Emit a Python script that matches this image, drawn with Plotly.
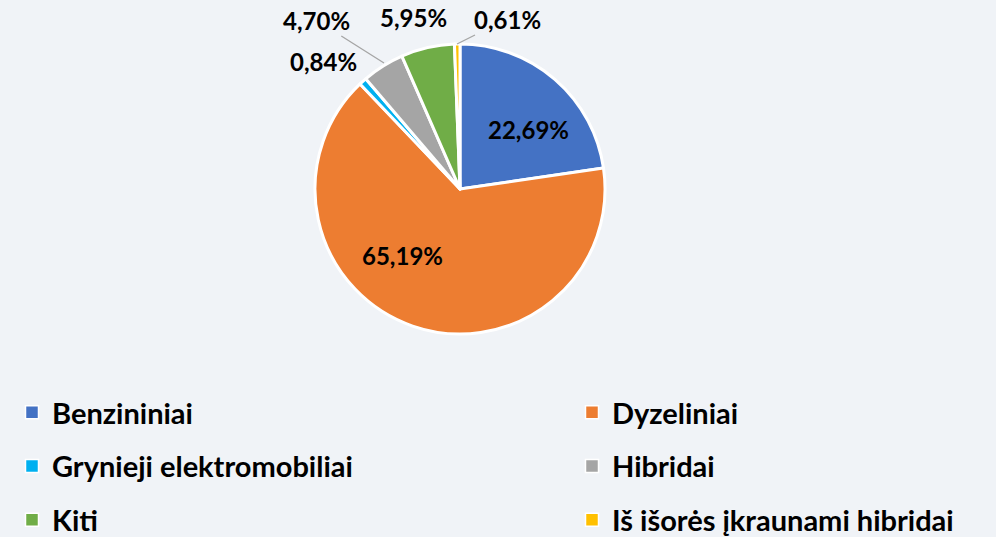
import plotly.graph_objects as go

labels = ["Benzininiai", "Dyzeliniai", "Grynieji elektromobiliai", "Hibridai", "Kiti",
          "Iš išorės įkraunami hibridai"]
values = [22.69, 65.19, 0.84, 4.70, 5.95, 0.61]
colors = ["#4472C4", "#ED7D31", "#00B0F0", "#A5A5A5", "#70AD47", "#FFC000"]

# legend columns (left / right)
left_col = ["Benzininiai", "Grynieji elektromobiliai", "Kiti"]
right_col = ["Dyzeliniai", "Hibridai", "Iš išorės įkraunami hibridai"]

W, H = 996, 537
BG = "#F0F3F7"
FONT = "Lato"

def fmt(v):
    return f"{v:.2f}".replace(".", ",") + "%"

texts = [fmt(v) for v in values]

fig = go.Figure()
fig.add_trace(go.Pie(
    labels=labels, values=values, sort=False, direction="clockwise", rotation=0,
    marker=dict(colors=colors, line=dict(color="white", width=3)),
    textinfo="none", showlegend=False, hoverinfo="label+value",
    domain=dict(x=[(460 - 145) / W, (460 + 145) / W], y=[1 - 334 / H, 1 - 44 / H]),
))

# legend entries (two columns)
for name in labels:
    c = colors[labels.index(name)]
    fig.add_trace(go.Scatter(
        x=[None], y=[None], mode="markers", name=name, legendgroup=name,
        marker=dict(symbol="square", size=13, color=c, line=dict(color="white", width=1.5)),
        legend="legend" if name in left_col else "legend2",
        hoverinfo="skip",
    ))

# data labels: (px, py, tip_x, tip_y) in pixels; tip None = no leader line
label_pos = {
    "Benzininiai": (528, 130, None, None),
    "Dyzeliniai": (402, 255, None, None),
    "Grynieji elektromobiliai": (323, 62, None, None),
    "Hibridai": (316, 20, 384, 63),
    "Kiti": (413, 17, None, None),
    "Iš išorės įkraunami hibridai": (507, 19, 457, 44),
}
for name, t in zip(labels, texts):
    px, py, tx, ty = label_pos[name]
    lab_font = dict(family=FONT, size=24, color="black", weight="bold")
    if tx is None:
        fig.add_annotation(x=px / W, y=1 - py / H, xref="paper", yref="paper",
                           xanchor="center", yanchor="middle",
                           text=t, showarrow=False, font=lab_font)
    else:
        fig.add_annotation(x=tx / W, y=1 - ty / H, xref="paper", yref="paper",
                           ax=px - tx, ay=py - ty, text=t, showarrow=True,
                           arrowhead=0, arrowwidth=1.3, arrowcolor="#A5A5A5",
                           font=lab_font)

legend_font = dict(family=FONT, size=29, color="black", weight="bold")
fig.update_layout(
    width=W, height=H,
    paper_bgcolor=BG, plot_bgcolor=BG,
    margin=dict(l=0, r=0, t=0, b=0, autoexpand=False),
    xaxis=dict(visible=False), yaxis=dict(visible=False),
    legend=dict(x=12 / W, y=1 - 387 / H, xanchor="left", yanchor="top",
                orientation="v", tracegroupgap=13, font=legend_font,
                bgcolor="rgba(0,0,0,0)"),
    legend2=dict(x=572 / W, y=1 - 387 / H, xanchor="left", yanchor="top",
                 orientation="v", tracegroupgap=13, font=legend_font,
                 bgcolor="rgba(0,0,0,0)"),
)

fig.write_html("out.html", config={"displayModeBar": False},
               post_script="document.body.style.margin='0';document.body.style.overflow='hidden';")
